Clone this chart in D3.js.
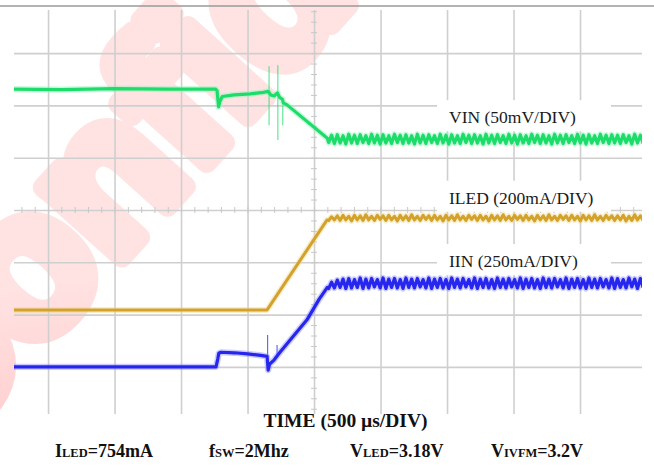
<!DOCTYPE html>
<html><head><meta charset="utf-8">
<script src="https://cdn.jsdelivr.net/npm/d3@7"></script>
<style>html,body{margin:0;padding:0;background:#fff;}svg{display:block}</style>
</head><body>
<svg id="chart" width="654" height="468"></svg>
<script>
// ---------------- data ----------------
const timeTicks = [-2000,-1500,-1000,-500,0,500,1000,1500,2000]; // µs
const divTicks = [-3,-2,-1,0,1,2,3];                               // divisions
const timeDomain = [-2256, 2466];
const divDomain = [-4, 4];

// traces before the ripple starts: [time µs, divisions]
const vinBase = [[-2256,2.31],[-1900,2.30],[-1500,2.32],[-1100,2.31],[-740,2.31],[-729,2.28],[-718,1.97],[-707,2.08],[-690,2.17],[-600,2.20],[-480,2.22],[-380,2.25],[-345,2.27],[-326,2.20],[-300,2.18],[-276,2.24],[-258,2.15],[-238,2.12],[-231,2.05],[-203,2.01],[100,1.37]];
const iledBase = [[-2256,-1.91],[-1500,-1.91],[-800,-1.91],[-353,-1.91],[98,-0.19]];
const iinBase = [[-2256,-3.0],[-1500,-3.0],[-800,-3.0],[-737,-3.0],[-724,-2.85],[-716,-2.74],[-700,-2.72],[-600,-2.73],[-500,-2.75],[-400,-2.78],[-353,-2.80],[-345,-3.06],[-335,-2.95],[-301,-2.87],[-281,-2.80],[-274,-2.78],[-256,-2.72],[-53,-2.10],[40,-1.70],[100,-1.48]];
// fast glitches: [time µs, top div, bottom div]
const vinSpikes = [[-338,2.75,1.62],[-272,2.77,1.34],[-235,2.05,1.62]];
const iinSpikes = [[-349,-2.39,-2.82],[-278,-2.58,-2.80]];

// ripple section (sample times and values)
const rippleTimes = [110,132,153,175,196,218,239,261,282,304,325,347,368,390,411,433,454,476,497,519,540,562,583,605,626,648,669,691,712,734,755,777,798,820,841,863,884,906,927,949,970,992,1013,1035,1056,1078,1099,1121,1142,1164,1185,1207,1228,1250,1271,1293,1314,1336,1357,1379,1400,1422,1443,1465,1486,1508,1529,1551,1572,1594,1615,1637,1658,1680,1701,1723,1744,1766,1787,1809,1830,1852,1873,1895,1916,1938,1959,1981,2002,2024,2045,2067,2088,2110,2131,2153,2174,2196,2217,2239,2260,2282,2303,2325,2346,2368,2389,2411,2432,2454,2475];
const vinRipple = [1.29,1.43,1.27,1.44,1.28,1.42,1.26,1.45,1.28,1.43,1.27,1.44,1.29,1.42,1.27,1.45,1.28,1.43,1.26,1.44,1.28,1.42,1.27,1.45,1.29,1.43,1.27,1.44,1.28,1.42,1.26,1.45,1.28,1.43,1.27,1.44,1.29,1.42,1.27,1.45,1.28,1.43,1.26,1.44,1.28,1.42,1.27,1.45,1.29,1.43,1.27,1.44,1.28,1.42,1.26,1.45,1.28,1.43,1.27,1.44,1.29,1.42,1.27,1.45,1.28,1.43,1.26,1.44,1.28,1.42,1.27,1.45,1.29,1.43,1.27,1.44,1.28,1.42,1.26,1.45,1.28,1.43,1.27,1.44,1.29,1.42,1.27,1.45,1.28,1.43,1.26,1.44,1.28,1.42,1.27,1.45,1.29,1.43,1.27,1.44,1.28,1.43,1.27,1.44,1.29,1.42,1.26,1.45,1.28,1.43,1.27];
const iledRipple = [-0.20,-0.13,-0.19,-0.11,-0.20,-0.10,-0.19,-0.12,-0.21,-0.10,-0.19,-0.11,-0.20,-0.09,-0.19,-0.12,-0.20,-0.10,-0.18,-0.11,-0.20,-0.10,-0.19,-0.12,-0.21,-0.10,-0.19,-0.11,-0.20,-0.09,-0.19,-0.12,-0.20,-0.10,-0.18,-0.11,-0.20,-0.10,-0.19,-0.12,-0.21,-0.10,-0.19,-0.11,-0.20,-0.09,-0.19,-0.12,-0.20,-0.10,-0.18,-0.11,-0.20,-0.10,-0.19,-0.12,-0.21,-0.10,-0.19,-0.11,-0.20,-0.09,-0.19,-0.12,-0.20,-0.10,-0.18,-0.11,-0.20,-0.10,-0.19,-0.12,-0.21,-0.10,-0.19,-0.11,-0.20,-0.09,-0.19,-0.12,-0.20,-0.10,-0.18,-0.11,-0.20,-0.10,-0.19,-0.12,-0.21,-0.10,-0.19,-0.11,-0.20,-0.09,-0.19,-0.12,-0.20,-0.10,-0.18,-0.11,-0.20,-0.11,-0.19,-0.10,-0.21,-0.12,-0.20,-0.09,-0.19,-0.11,-0.20];
const iinRipple = [-1.50,-1.38,-1.49,-1.34,-1.48,-1.32,-1.50,-1.31,-1.49,-1.33,-1.48,-1.30,-1.50,-1.32,-1.49,-1.31,-1.47,-1.33,-1.49,-1.30,-1.50,-1.32,-1.48,-1.31,-1.49,-1.33,-1.50,-1.30,-1.48,-1.32,-1.49,-1.31,-1.47,-1.33,-1.49,-1.30,-1.50,-1.32,-1.48,-1.31,-1.49,-1.33,-1.50,-1.30,-1.48,-1.32,-1.49,-1.31,-1.47,-1.33,-1.49,-1.30,-1.50,-1.32,-1.48,-1.31,-1.49,-1.33,-1.50,-1.30,-1.48,-1.32,-1.49,-1.31,-1.47,-1.33,-1.49,-1.30,-1.50,-1.32,-1.48,-1.31,-1.49,-1.33,-1.50,-1.30,-1.48,-1.32,-1.49,-1.31,-1.47,-1.33,-1.49,-1.30,-1.50,-1.32,-1.48,-1.31,-1.49,-1.33,-1.50,-1.30,-1.48,-1.32,-1.49,-1.31,-1.47,-1.33,-1.49,-1.30,-1.50,-1.31,-1.48,-1.33,-1.49,-1.30,-1.47,-1.32,-1.50,-1.31,-1.48];

const traceNames = ["VIN (50mV/DIV)", "ILED (200mA/DIV)", "IIN (250mA/DIV)"];
const timeTitle = "TIME (500 µs/DIV)";
const conditionLabels = [["I","LED","=754mA"],["f","SW","=2Mhz"],["V","LED","=3.18V"],["V","IVFM","=3.2V"]];
const watermarkText = "Confidential";

// ---------------- drawing ----------------
const W = 654, H = 468;
const plot = {left:14, right:642, top:10, bottom:414};
const svg = d3.select("#chart");
const x = d3.scaleLinear().domain(timeDomain).range([plot.left, plot.right]);
const y = d3.scaleLinear().domain(divDomain).range([419.2, 0.8]);

const defs = svg.append("defs");
const grad = defs.append("linearGradient").attr("id","wm").attr("gradientUnits","userSpaceOnUse")
  .attr("x1",0).attr("y1",360).attr("x2",280).attr("y2",20);
[[0,"#ff0000"],[0.28,"#ff2424"],[0.46,"#ff9a9a"],[0.66,"#ffcdcd"],[1,"#ffe2e2"]]
  .forEach(([o,c]) => grad.append("stop").attr("offset",o).attr("stop-color",c));
defs.append("clipPath").attr("id","clip").append("rect")
  .attr("x",plot.left).attr("y",0).attr("width",plot.right-plot.left).attr("height",H);
const blur = defs.append("filter").attr("id","soft").attr("filterUnits","userSpaceOnUse")
  .attr("x",0).attr("y",0).attr("width",W).attr("height",H);
blur.append("feGaussianBlur").attr("stdDeviation",0.6);

// watermark
svg.append("text").text(watermarkText)
  .attr("transform","translate(-66,466) rotate(-48)")
  .attr("font-family","Liberation Sans, Arial, sans-serif").attr("font-weight","bold")
  .attr("font-size",200).attr("fill","url(#wm)")
  .attr("stroke","url(#wm)").attr("stroke-width",20).attr("stroke-linejoin","round");

// top border line
svg.append("line").attr("x1",0).attr("x2",W).attr("y1",6).attr("y2",6)
  .attr("stroke","#9a9a9a").attr("stroke-width",1.4);

// grid via axes
const gridColor = "#cfcfcf";
const vg = svg.append("g").attr("transform",`translate(0,${plot.bottom})`)
  .call(d3.axisBottom(x).tickValues(timeTicks).tickSize(-(plot.bottom-plot.top)).tickFormat(""));
const hg = svg.append("g").attr("transform",`translate(${plot.left},0)`)
  .call(d3.axisLeft(y).tickValues(divTicks).tickSize(-(plot.right-plot.left)).tickFormat(""));
[vg,hg].forEach(g => {
  g.select(".domain").remove();
  g.selectAll("line").attr("stroke",gridColor).attr("stroke-width",1.6);
});
// center minor ticks
const minorY = d3.range(-3.8, 3.801, 0.2);
const minorX = d3.range(-2200, 2401, 100);
[d3.axisLeft(y).tickValues(minorY).tickSize(3), d3.axisRight(y).tickValues(minorY).tickSize(3)].forEach(ax => {
  const g = svg.append("g").attr("transform",`translate(${x(0)},0)`).call(ax.tickFormat(""));
  g.select(".domain").remove();
  g.selectAll("line").attr("stroke","#c8c8c8").attr("stroke-width",1);
});
[d3.axisTop(x).tickValues(minorX).tickSize(3), d3.axisBottom(x).tickValues(minorX).tickSize(3)].forEach(ax => {
  const g = svg.append("g").attr("transform",`translate(0,${y(0)})`).call(ax.tickFormat(""));
  g.select(".domain").remove();
  g.selectAll("line").attr("stroke","#c8c8c8").attr("stroke-width",1);
});

// label boxes (white, hide grid behind labels)
const labelBaselines = [1.66, 0.12, -1.09]; // divisions
const boxes = svg.append("g");
traceNames.forEach((n,i) => {
  const by = y(labelBaselines[i]);
  boxes.append("rect").attr("x",437).attr("width",174)
    .attr("y", by-23).attr("height", 31).attr("fill","#fff");
});

// traces
const line = d3.line().x(d => x(d[0])).y(d => y(d[1]));
const zip = vals => rippleTimes.map((t,i) => [t, vals[i]]);
const traces = [
  {data: vinBase.concat(zip(vinRipple)), spikes: vinSpikes, core:"#1fdc6a", halo:"#90f2b8", w:3.2},
  {data: iledBase.concat(zip(iledRipple)), spikes: [], core:"#d3a22a", halo:"#eed694", w:3.0},
  {data: iinBase.concat(zip(iinRipple)), spikes: iinSpikes, core:"#2626ee", halo:"#8c8cff", w:3.2}
];
const tg = svg.append("g").attr("clip-path","url(#clip)");
traces.forEach(t => {
  tg.selectAll(null).data(t.spikes).enter().append("line")
    .attr("x1", d => x(d[0])).attr("x2", d => x(d[0]))
    .attr("y1", d => y(d[1])).attr("y2", d => y(d[2]))
    .attr("stroke", t.core).attr("stroke-width", 1.1).attr("stroke-opacity", 0.75);
  tg.append("path").attr("d", line(t.data)).attr("fill","none")
    .attr("stroke",t.halo).attr("stroke-width",t.w+3).attr("stroke-opacity",0.45)
    .attr("stroke-linejoin","round").attr("filter","url(#soft)");
  tg.append("path").attr("d", line(t.data)).attr("fill","none")
    .attr("stroke",t.core).attr("stroke-width",t.w)
    .attr("stroke-linejoin","round").attr("filter","url(#soft)");
});

// trace labels
traceNames.forEach((n,i) => {
  svg.append("text").text(n).attr("x",449).attr("y",y(labelBaselines[i]))
    .attr("font-family","Liberation Serif, Times New Roman, serif")
    .attr("font-size",17.5).attr("fill","#1a1a1a");
});

// time title
svg.append("text").text(timeTitle).attr("x",345.5).attr("y",427)
  .attr("text-anchor","middle").attr("font-family","Liberation Serif, Times New Roman, serif")
  .attr("font-weight","bold").attr("font-size",19.5).attr("fill","#111");

// condition labels
const condX = [55, 209, 350, 491];
conditionLabels.forEach((parts,i) => {
  const t = svg.append("text").attr("x",condX[i]).attr("y",457)
    .attr("font-family","Liberation Serif, Times New Roman, serif")
    .attr("font-weight","bold").attr("font-size",18).attr("fill","#111");
  t.append("tspan").text(parts[0]);
  t.append("tspan").text(parts[1]).attr("font-size",12.5);
  t.append("tspan").text(parts[2]);
});
</script>
</body></html>
